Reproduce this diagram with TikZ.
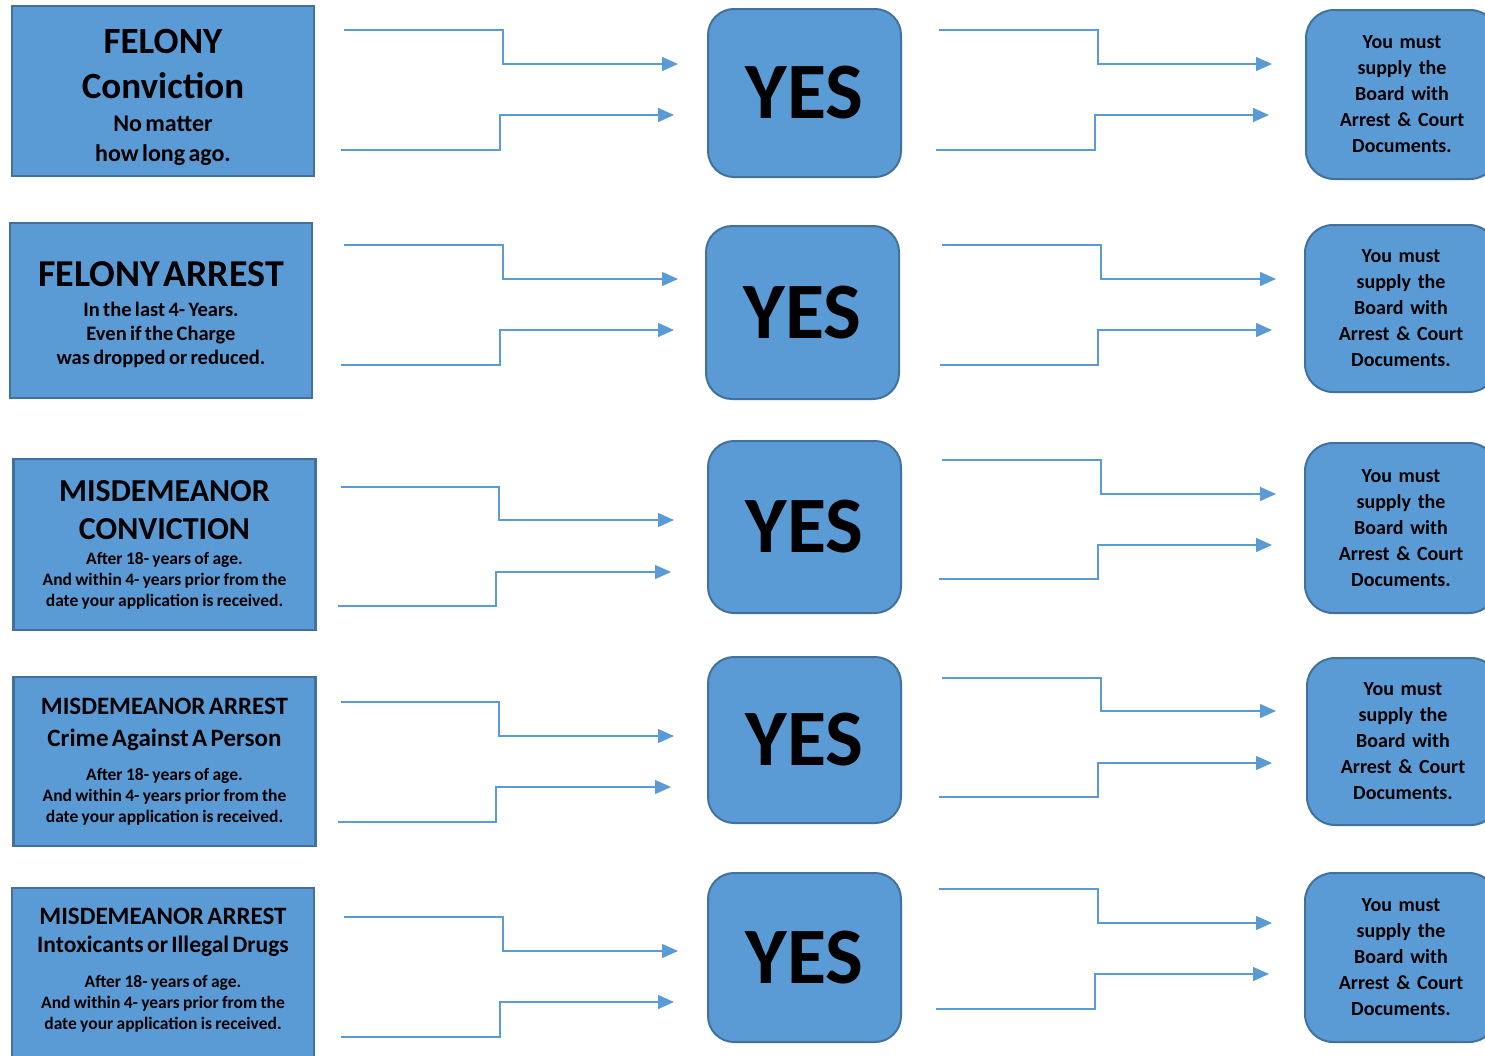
\documentclass[tikz,border=0pt]{standalone}
\usepackage{fontspec}
\setmainfont{Carlito}
\usetikzlibrary{arrows.meta,positioning}

\definecolor{boxfill}{HTML}{5B9BD5}
\definecolor{boxline}{HTML}{41719C}

% one elbow connector: name, start x, start y, bend x, end y, end x
\newcommand{\elbow}[6]{%
  \coordinate (#1s) at (#2,#3);
  \coordinate (#1e) at (#6,#5);
  \draw[link] (#1s) -- (#4,#3) |- (#1e);
}

\begin{document}
\begin{tikzpicture}[x=1pt,y=-1pt,font=\bfseries,
    crime/.style={draw=boxline,line width=2.5pt,fill=boxfill,minimum width=302pt,
      text width=296pt,align=center,inner sep=0pt},
    answer/.style={draw=boxline,line width=2pt,fill=boxfill,rounded corners=26pt,
      minimum width=193pt,inner sep=0pt,font=\bfseries\fontsize{80}{80}\selectfont},
    docs/.style={draw=boxline,line width=2pt,fill=boxfill,rounded corners=28pt,
      minimum width=192pt,text width=180pt,align=center,inner sep=0pt,
      font=\bfseries\fontsize{20}{26}\selectfont},
    link/.style={draw=boxfill,line width=1.3pt,-{Triangle[length=16pt,width=14pt]}}]
  \useasboundingbox (0,0) rectangle (1485,1055);

  % left column
  \node[crime,minimum height=170pt] (fconv) at (163,91)
    {\fontsize{37}{45}\selectfont\rule{0pt}{37pt}FELONY\\Conviction\par\vspace{3pt}
     \fontsize{24}{30}\selectfont No matter\\how long ago.\par};
  \node[crime,minimum height=175pt] (farr) at (161,310.5)
    {\fontsize{38}{45}\selectfont\rule{0pt}{34pt}FELONY ARREST\par\vspace{6pt}
     \fontsize{20.5}{24}\selectfont In the last 4- Years.\\Even if the Charge\\was dropped or reduced.\par};
  \node[crime,minimum height=171pt] (mconv) at (164.5,544.5)
    {\fontsize{32}{38}\selectfont MISDEMEANOR\\CONVICTION\par\vspace{4pt}
     \fontsize{17.5}{21}\selectfont After 18- years of age.\\And within 4- years prior from the\\date your application is received.\par};
  \node[crime,minimum height=169pt] (mperson) at (164.5,761.5)
    {\fontsize{25}{32}\selectfont MISDEMEANOR ARREST\\Crime Against A Person\par\vspace{13pt}
     \fontsize{17.5}{21}\selectfont After 18- years of age.\\And within 4- years prior from the\\date your application is received.\par};
  \node[crime,minimum height=170pt] (mdrugs) at (163,973)
    {\fontsize{25}{29}\selectfont MISDEMEANOR ARREST\\\fontsize{23.5}{28}\selectfont Intoxicants or Illegal Drugs\par\vspace{14pt}
     \fontsize{17.5}{21}\selectfont After 18- years of age.\\And within 4- years prior from the\\date your application is received.\rule[-8.5pt]{0pt}{1pt}\par};

  % middle column
  \node[answer,minimum height=168pt] (yes1) at (804.5,93) {YES};
  \node[answer,minimum height=173pt] (yes2) at (802.5,312.5) {YES};
  \node[answer,minimum height=172pt] (yes3) at (804.5,527) {YES};
  \node[answer,minimum height=166pt] (yes4) at (804.5,740) {YES};
  \node[answer,minimum height=169pt] (yes5) at (804.5,957.5) {YES};

  % right column
  \node[docs,minimum height=169pt] (docs1) at (1402,94.5)
    {You must\\supply the\\Board with\\Arrest \& Court\\Documents.};
  \node[docs,minimum height=167pt] (docs2) at (1401,308.5)
    {You must\\supply the\\Board with\\Arrest \& Court\\Documents.};
  \node[docs,minimum height=170pt] (docs3) at (1401,528)
    {You must\\supply the\\Board with\\Arrest \& Court\\Documents.};
  \node[docs,minimum height=167pt] (docs4) at (1403,741.5)
    {You must\\supply the\\Board with\\Arrest \& Court\\Documents.};
  \node[docs,minimum height=169pt] (docs5) at (1401,957.5)
    {You must\\supply the\\Board with\\Arrest \& Court\\Documents.};

  % connectors, left to middle
  \elbow{la1}{344}{30}{503}{64}{678}
  \elbow{lb1}{341}{150}{500}{115}{674}
  \elbow{la2}{344}{245}{503}{279}{678}
  \elbow{lb2}{341}{365}{500}{330}{674}
  \elbow{la3}{341}{487}{499}{520}{674}
  \elbow{lb3}{338}{606}{496}{572}{671}
  \elbow{la4}{341}{702}{499}{736}{674}
  \elbow{lb4}{338}{822}{496}{787}{671}
  \elbow{la5}{344}{917}{503}{951}{678}
  \elbow{lb5}{341}{1037}{500}{1002}{674}

  % connectors, middle to right
  \elbow{ra1}{939}{30}{1098}{64}{1272}
  \elbow{rb1}{936}{150}{1095}{115}{1269}
  \elbow{ra2}{942}{245}{1101}{279}{1276}
  \elbow{rb2}{940}{365}{1098}{330}{1272}
  \elbow{ra3}{942}{460}{1101}{494}{1276}
  \elbow{rb3}{939}{579}{1098}{545}{1272}
  \elbow{ra4}{942}{678}{1101}{711}{1276}
  \elbow{rb4}{939}{797}{1098}{763}{1272}
  \elbow{ra5}{939}{889}{1098}{923}{1272}
  \elbow{rb5}{936}{1009}{1095}{974}{1269}
\end{tikzpicture}
\end{document}
